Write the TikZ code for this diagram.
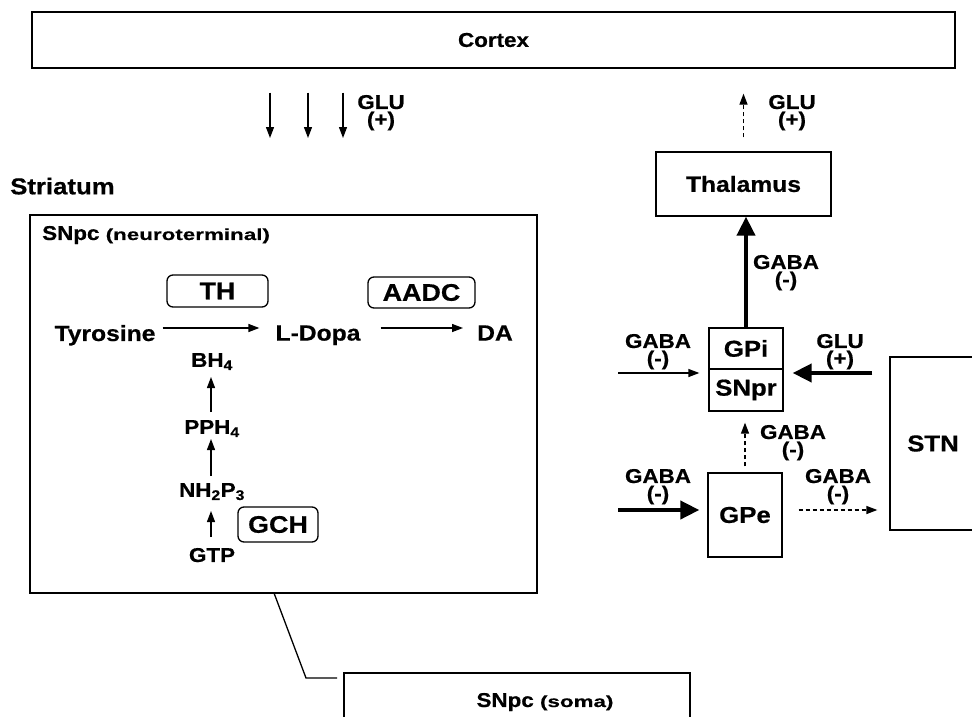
\documentclass[tikz,border=0pt]{standalone}
\usepackage{fontspec}
\setmainfont{Liberation Sans}[FakeStretch=1.12, BoldFeatures={FakeBold=0.6}]
\newfontfamily\widefam{Liberation Sans}[FakeStretch=1.4, BoldFeatures={FakeBold=0.5}]
\usetikzlibrary{arrows.meta}
\newcommand\myfontA{\fontsize{22}{24}\selectfont\bfseries}
\newcommand\myfontB{\fontsize{23}{25}\selectfont\bfseries}
\newcommand\myfontE{\fontsize{24}{26}\selectfont\bfseries}
\newcommand\myfontC{\fontsize{20}{22}\selectfont\bfseries}
\newcommand\myfontL{\fontsize{20}{22}\selectfont\bfseries}
\newcommand\myfontS{\widefam\fontsize{16}{18}\selectfont\bfseries}
\begin{document}
\begin{tikzpicture}[x=1pt,y=-1pt,
  box/.style={draw, line width=1.3pt, inner sep=0pt, font=\myfontB},
  enzyme/.style={draw, line width=1.3pt, inner sep=0pt, rounded corners=6pt, font=\myfontE},
  txt/.style={inner sep=0pt, font=\myfontA, text depth=0pt},
  chem/.style={inner sep=0pt, font=\myfontC, text depth=0pt},
  lab/.style={inner sep=0pt, font=\myfontL, text depth=0pt},
  sarrow/.style={line width=1.3pt, -{Triangle[length=11pt,width=8pt]}},
  tarrow/.style={line width=4pt, -{Triangle[length=19pt,width=18pt]}},
  darrow/.style={line width=1.3pt, dash pattern=on 4pt off 3pt, -{Triangle[length=11pt,width=8pt]}},
]
\useasboundingbox (0,0) rectangle (972,717);

% Cortex
\node[box, font=\myfontC, minimum width=923pt, minimum height=56pt] (cortex) at (493.5,40) {Cortex};
\coordinate (d1) at (270,138);
\coordinate (d2) at (308,138);
\coordinate (d3) at (343,138);
\draw[sarrow, shorten <=24pt] (d1 |- cortex.south) -- (d1);
\draw[sarrow, shorten <=24pt] (d2 |- cortex.south) -- (d2);
\draw[sarrow, shorten <=24pt] (d3 |- cortex.south) -- (d3);
\node[lab] (gluA) at (381,102) {GLU};
\node[lab] (plusA) at (381,119) {(+)};

% Thalamus
\node[box, font=\myfontA, minimum width=175pt, minimum height=64pt] (thal) at (743.5,184) {Thalamus};
\draw[darrow, shorten <=14pt, shorten >=25pt] (thal.north) -- (thal.north |- cortex.south);
\node[lab] (gluB) at (792,102) {GLU};
\node[lab] (plusB) at (792,119) {(+)};

% GPi / SNpr
\node[box, minimum width=74pt, minimum height=41pt] (gpi) at (746,348.5) {GPi};
\node[box, minimum width=74pt, minimum height=42pt] (snpr) at (746,390) {SNpr};
\draw[tarrow] (gpi.north) -- (gpi.north |- thal.south);
\node[lab] (gabaT) at (786,262) {GABA};
\node[lab] (minusT) at (786,279) {(-)};

% STN
\node[box, minimum width=86pt, minimum height=173pt] (stn) at (933,443.5) {STN};

% GPe
\node[box, minimum width=74pt, minimum height=84pt] (gpe) at (745,515) {GPe};

% inputs to GPi
\coordinate (gpiIn) at (618,373);
\draw[sarrow, shorten >=9pt] (gpiIn) -- (gpiIn -| gpi.west);
\node[lab] (gabaG) at (658,341) {GABA};
\node[lab] (minusG) at (658,358) {(-)};
\draw[tarrow, shorten <=17pt, shorten >=9pt] (stn.west |- gpiIn) -- (gpiIn -| gpi.east);
\node[lab] (gluS) at (840,341) {GLU};
\node[lab] (plusS) at (840,358) {(+)};

% GPe to SNpr
\draw[darrow, shorten <=6pt, shorten >=11pt] (gpe.north) -- (gpe.north |- snpr.south);
\node[lab] (gabaE) at (793,432) {GABA};
\node[lab] (minusE) at (793,449) {(-)};

% input to GPe
\coordinate (gpeIn) at (618,510);
\draw[tarrow, shorten >=8pt] (gpeIn) -- (gpeIn -| gpe.west);
\node[lab] (gabaP) at (658,476) {GABA};
\node[lab] (minusP) at (658,493) {(-)};
\draw[darrow, shorten <=16pt, shorten >=12pt] (gpe.east |- gpeIn) -- (gpeIn -| stn.west);
\node[lab] (gabaS) at (838,476) {GABA};
\node[lab] (minusS) at (838,493) {(-)};

% Striatum
\node[txt, font=\myfontB, anchor=west] (striatum) at (10,186) {Striatum};
\node[box, minimum width=507pt, minimum height=378pt] (snpc) at (283.5,404) {};
\node[txt, font=\myfontC, anchor=west] (snpclab) at (42,233) {SNpc {\myfontS(neuroterminal)}};

% pathway
\node[enzyme, minimum width=101pt, minimum height=32pt] (th) at (217.5,291) {TH};
\node[enzyme, minimum width=107pt, minimum height=31pt] (aadc) at (421.5,292.5) {AADC};
\node[txt] (tyr) at (105,333) {Tyrosine};
\node[txt] (ldopa) at (318,333) {L-Dopa};
\node[txt] (da) at (495,333) {DA};
\draw[sarrow, shorten <=7pt, shorten >=16pt] ([yshift=5pt]tyr.east) -- ([yshift=5pt]ldopa.west);
\draw[sarrow, shorten <=20pt, shorten >=14pt] ([yshift=5pt]ldopa.east) -- ([yshift=5pt]da.west);

\node[chem] (bh) at (212,360) {BH\textsubscript{4}};
\node[chem] (pph) at (212,427) {PPH\textsubscript{4}};
\node[chem] (nh) at (212,490) {NH\textsubscript{2}P\textsubscript{3}};
\node[chem] (gtp) at (212,555) {GTP};
\node[enzyme, minimum width=80pt, minimum height=35pt] (gch) at (278,524.5) {GCH};
\coordinate (a1) at (211,0);
\draw[sarrow, shorten <=15pt, shorten >=17pt] (pph.center -| a1) -- (bh.center -| a1);
\draw[sarrow, shorten <=14pt, shorten >=12pt] (nh.center -| a1) -- (pph.center -| a1);
\draw[sarrow, shorten <=18pt, shorten >=21pt] (gtp.center -| a1) -- (nh.center -| a1);

% soma
\node[box, minimum width=346pt, minimum height=67pt] (soma) at (517,706.5) {};
\node[txt, font=\myfontC] (somalab) at (545,700) {SNpc {\myfontS(soma)}};
\coordinate (k0) at (274,593);
\coordinate (k1) at (306,678);
\coordinate (k2) at (337,678);
\draw[line width=1.3pt] (k0) -- (k1) -- (k2);
\end{tikzpicture}
\end{document}
